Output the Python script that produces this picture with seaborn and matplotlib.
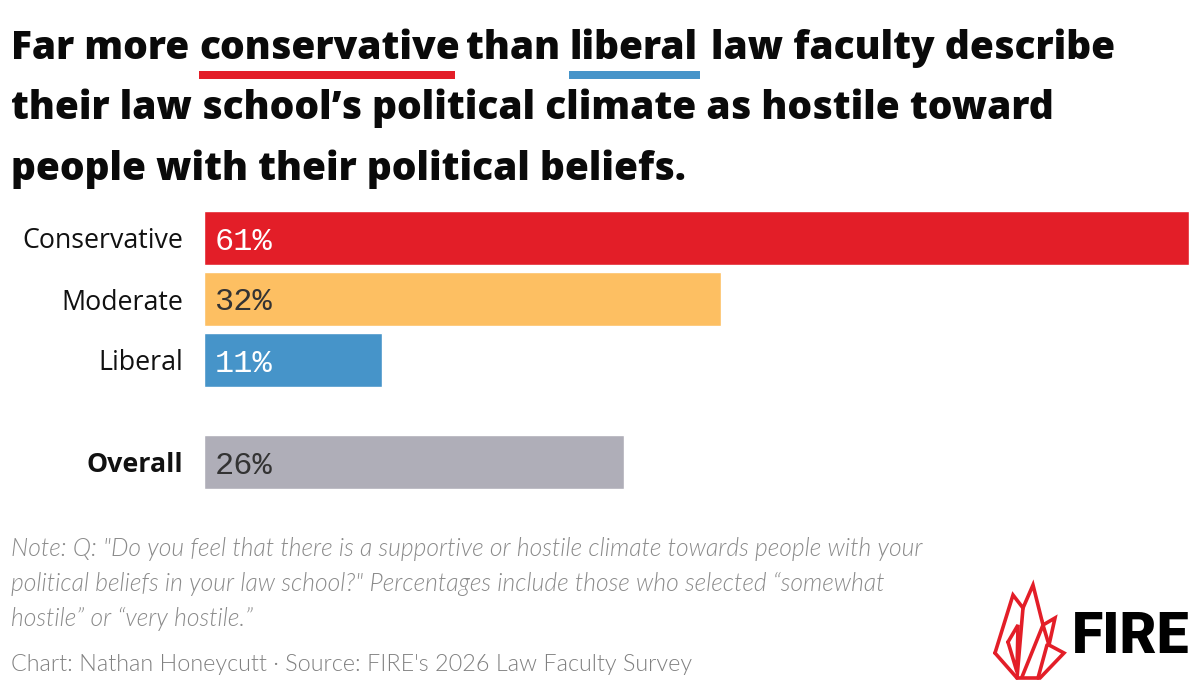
import matplotlib
matplotlib.use('Agg')
import matplotlib.pyplot as plt
import pandas as pd
import seaborn as sns

groups = ['Conservative', 'Moderate', 'Liberal']
group_values = [61, 32, 11]
group_colors = ['#E31E28', '#FDBF62', '#4694C9']
overall_label = ['Overall']
overall_value = [26]
overall_color = ['#AFAEB8']
value_colors = ['white', '#333333', 'white']
overall_value_color = '#333333'

W, H = 1200, 690
sns.set_theme(style='white')
TITLE_FONT = 'Open Sans'
LABEL_FONT = 'Open Sans'
VALUE_FONT = 'Liberation Mono'
NOTE_FONT = 'Lato'
RED = group_colors[0]
BLUE = group_colors[2]


def px_axes(fig, x0, y0, x1, y1):
    # pixel box measured from top left of the image
    return fig.add_axes([x0 / W, 1 - y1 / H, (x1 - x0) / W, (y1 - y0) / H])


def draw_bars(ax, names, values, colors, text_colors, bold=False):
    df = pd.DataFrame({'group': names, 'value': values})
    sns.barplot(data=df, y='group', x='value', hue='group', palette=colors, legend=False,
                width=0.885, saturation=1, ax=ax)
    ax.set_xlim(0, 61)
    ax.set_xlabel('')
    ax.set_ylabel('')
    ax.set_xticks([])
    ax.tick_params(axis='y', length=0, pad=15, labelsize=19.3)
    for lab in ax.get_yticklabels():
        lab.set_fontfamily(LABEL_FONT)
        lab.set_color('#111111')
        if bold:
            lab.set_fontweight('bold')
    for i, v in enumerate(values):
        ax.annotate(f'{v}%', (0, i), xytext=(7.2, 0), textcoords='offset points', va='center_baseline',
                    ha='left', color=text_colors[i], family=VALUE_FONT, fontsize=23)
    sns.despine(ax=ax, left=True, bottom=True)


fig = plt.figure(figsize=(W / 100, H / 100), dpi=100, facecolor='white')

# three groups and the Overall row sit on separate axes because of the gap between them
ax = px_axes(fig, 204.4, 207.5, 1189, 390.5)
draw_bars(ax, groups, group_values, group_colors, value_colors)
ax2 = px_axes(fig, 204.4, 431.5, 1189, 492.5)
draw_bars(ax2, overall_label, overall_value, overall_color, [overall_value_color], bold=True)


def t(x, y, s, **kw):
    fig.text(x / W, 1 - y / H, s, va='baseline', **kw)


title_kw = dict(family=TITLE_FONT, fontweight='extra bold', fontsize=28, color='#0a0a0a')
t(11, 59, 'Far more', **title_kw)
t(199, 59, 'conservative', **title_kw)
t(466, 59, 'than', **title_kw)
t(569, 59, 'liberal', **title_kw)
t(711, 59, 'law faculty describe', **title_kw)
t(11, 119, 'their law school’s political climate as hostile toward', **title_kw)
t(11, 180, 'people with their political beliefs.', **title_kw)

fig.add_artist(plt.Rectangle((199 / W, 1 - 79 / H), 256 / W, 8 / H, color=RED, lw=0))
fig.add_artist(plt.Rectangle((569 / W, 1 - 79 / H), 131 / W, 8 / H, color=BLUE, lw=0))

note_kw = dict(family=NOTE_FONT, style='italic', fontweight=300, fontsize=17.7, color='#8a8a8a')
t(11, 556, 'Note: Q: "Do you feel that there is a supportive or hostile climate towards people with your', **note_kw)
t(11, 591, 'political beliefs in your law school?" Percentages include those who selected “somewhat', **note_kw)
t(11, 626, 'hostile” or “very hostile.”', **note_kw)
t(11, 671, "Chart: Nathan Honeycutt · Source: FIRE's 2026 Law Faculty Survey",
  family=NOTE_FONT, fontweight=300, fontsize=16.8, color='#808080')

# logo wordmark
t(1072, 653, 'FIRE', family='Roboto', fontweight='black', fontsize=41, color='black')

# logo flame outline, pixel coordinates
flame = [
    [(995, 653), (1013, 595), (1023, 608), (1033, 585), (1043, 625), (1055, 618), (1049, 645), (1064, 653),
     (1040, 678), (1017, 678), (995, 653)],
    [(1017, 678), (1023, 608)],
    [(1008, 642), (1018, 625), (1017, 672), (1008, 642)],
    [(1022, 677), (1043, 625), (1049, 645)],
    [(1038, 678), (1047, 645)],
]
lax = fig.add_axes([0, 0, 1, 1], facecolor='none')
lax.set_xlim(0, W)
lax.set_ylim(H, 0)
lax.axis('off')
for seg in flame:
    lax.plot([p[0] for p in seg], [p[1] for p in seg], color=RED, lw=2.6, solid_joinstyle='miter')

fig.savefig('out.png', dpi=100)
